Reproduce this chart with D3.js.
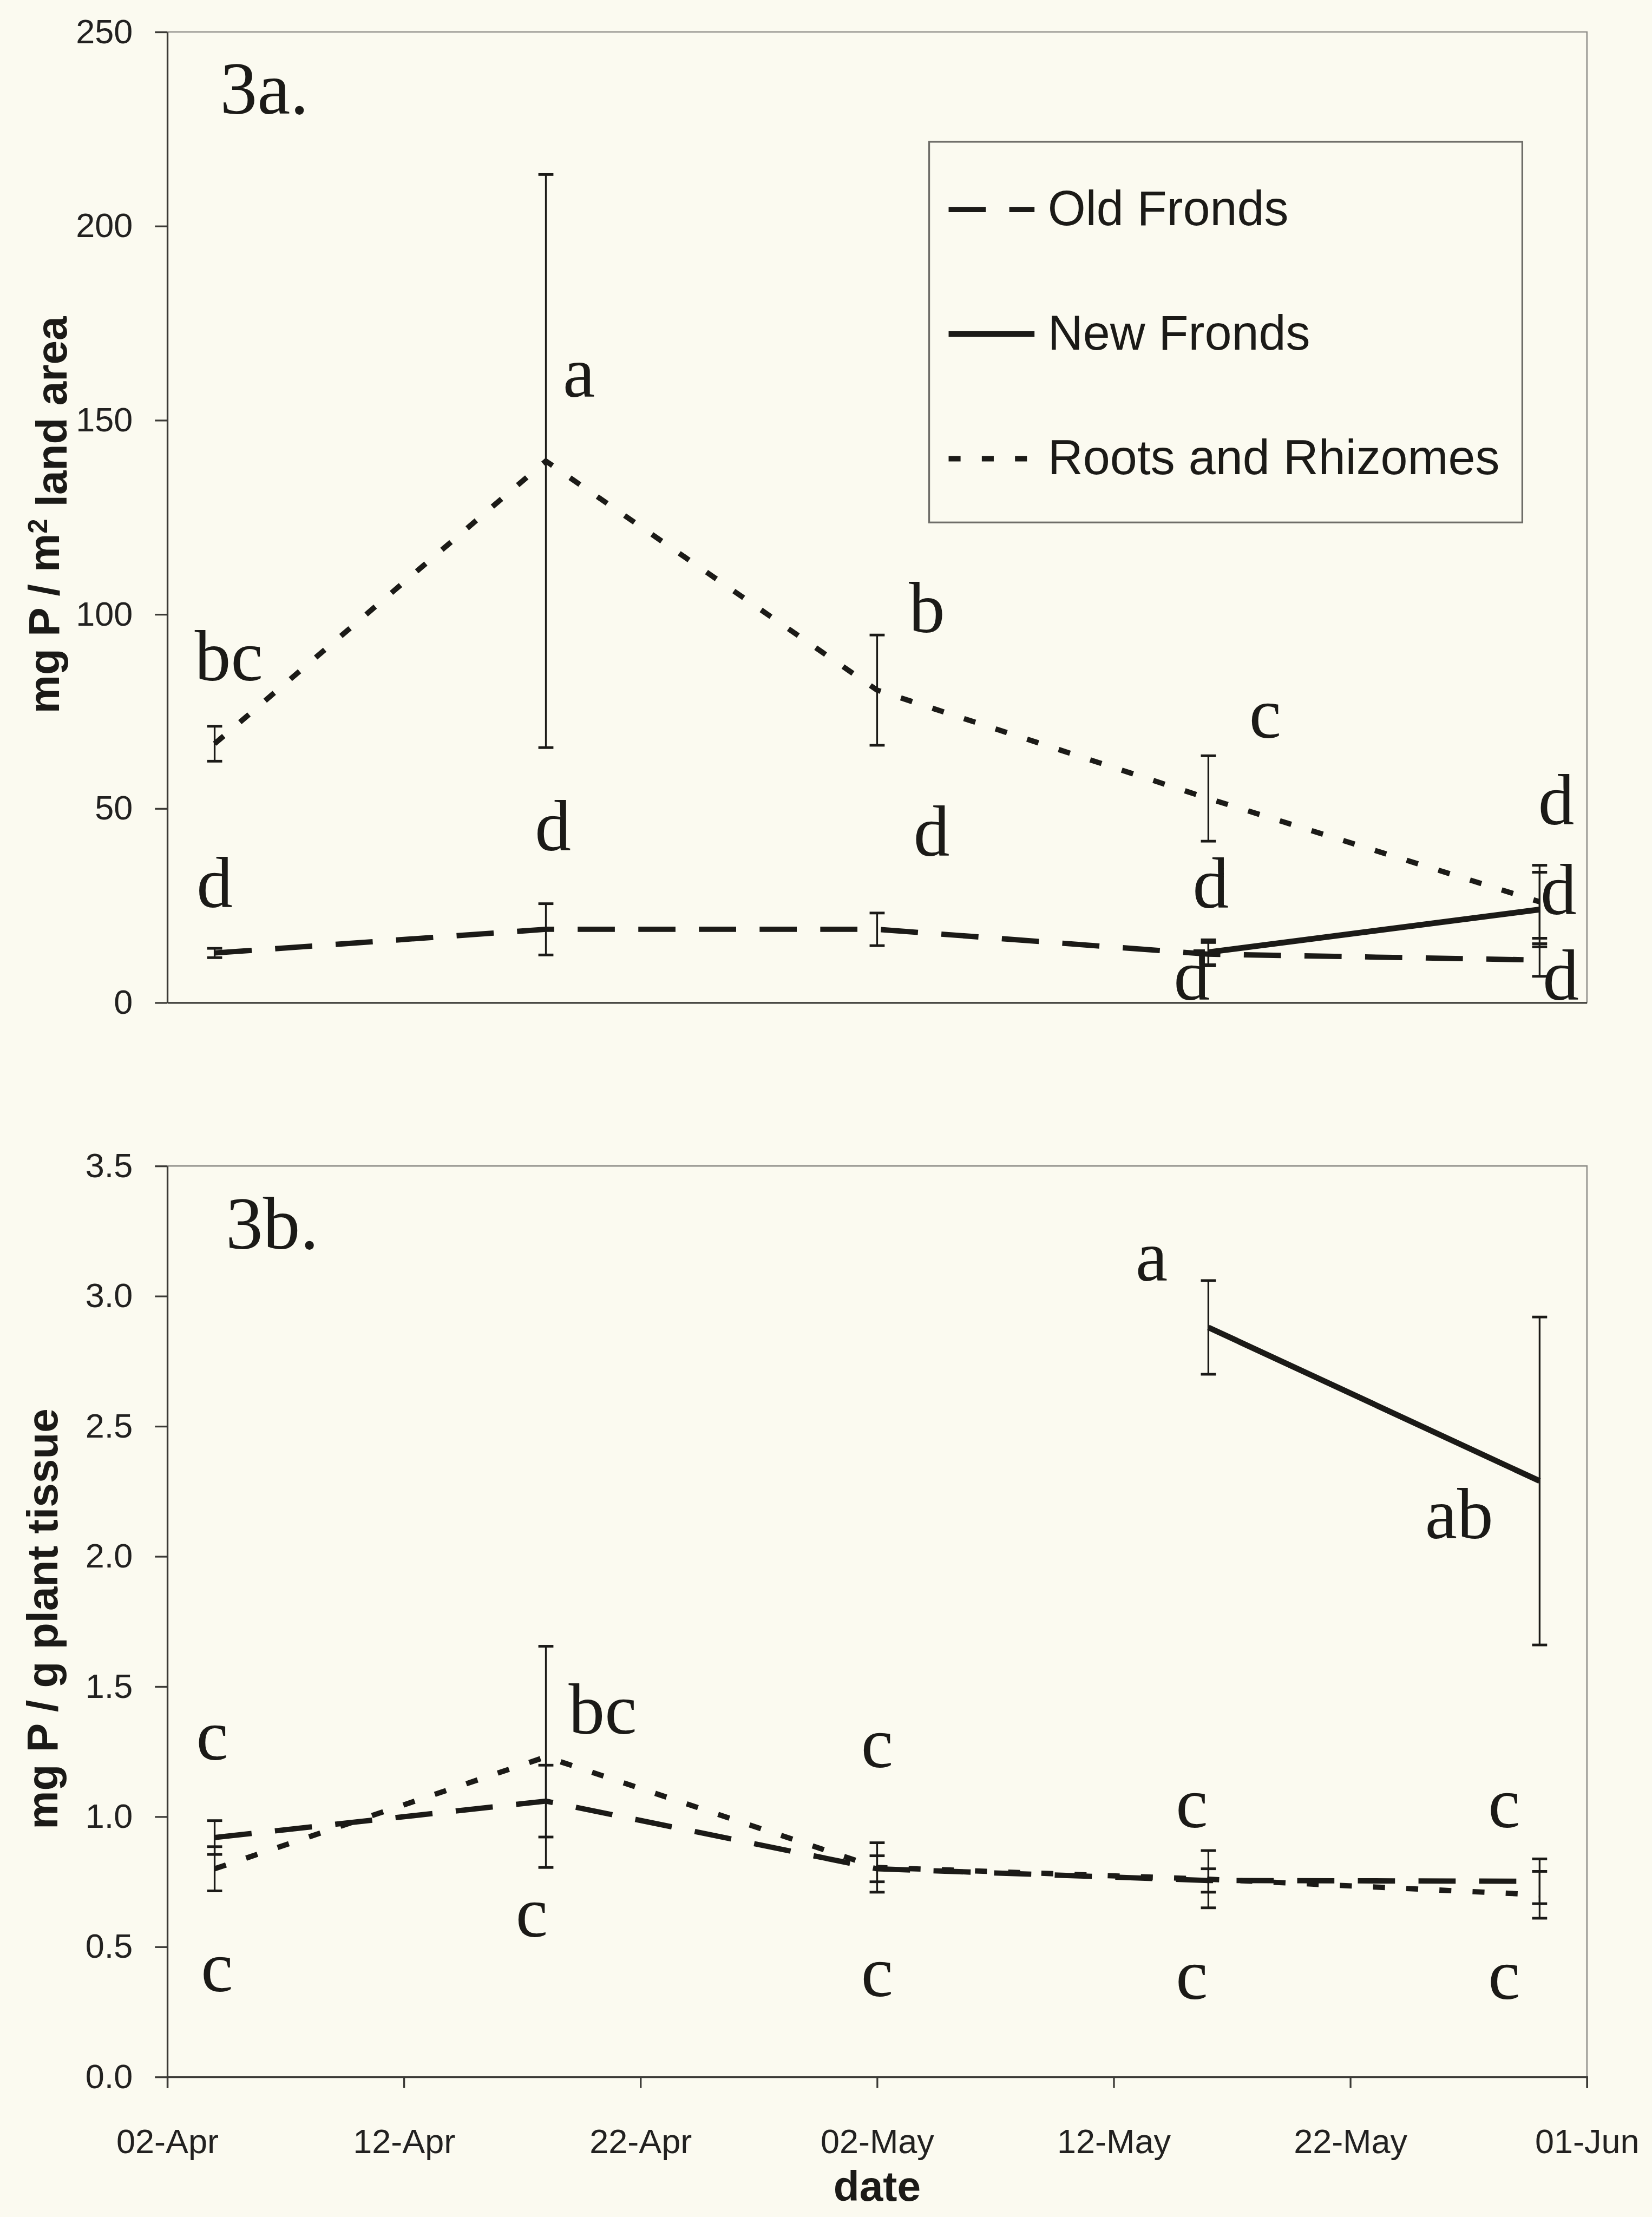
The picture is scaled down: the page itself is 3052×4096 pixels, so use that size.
<!DOCTYPE html>
<html>
<head>
<meta charset="utf-8">
<script src="https://cdn.jsdelivr.net/npm/d3@7"></script>
<style>
  body { margin: 0; background: #fbfaf0; }
  svg { display: block; }
</style>
</head>
<body>
<script>
// sampling dates (same for both panels)
var dates = ["04-Apr", "18-Apr", "02-May", "16-May", "30-May"];
var tickLabels = ["02-Apr", "12-Apr", "22-Apr", "02-May", "12-May", "22-May", "01-Jun"];

// 3a: mg P / m2 land area
var oldA = [12.8, 18.9, 18.9, 12.5, 11.0];
var oldAErr = [1.2, 6.6, 4.2, 3.0, 4.2];
var newA = [null, null, null, 13.0, 24.0];
var newAErr = [null, null, null, 3.2, 9.6];
var rootsA = [66.7, 139.5, 80.5, 52.6, 26.0];
var rootsAErr = [4.5, 73.8, 14.2, 11.0, 9.4];
var yTicksA = [0, 50, 100, 150, 200, 250];

// 3b: mg P / g plant tissue
var oldB = [0.92, 1.06, 0.80, 0.755, 0.752];
var oldBErr = [0.065, 0.138, 0.05, 0.045, 0.086];
var newB = [null, null, null, 2.88, 2.29];
var newBErr = [null, null, null, 0.18, 0.63];
var rootsB = [0.80, 1.23, 0.805, 0.76, 0.70];
var rootsBErr = [0.085, 0.425, 0.095, 0.11, 0.09];
var yTicksB = [0, 0.5, 1.0, 1.5, 2.0, 2.5, 3.0, 3.5];

// significance letters, anchored in data space (days after 02-Apr, value)
var lettersA = [
  {day: 2.6, v: 83, t: "bc"}, {day: 2.0, v: 24.6, t: "d"},
  {day: 17.4, v: 156, t: "a"}, {day: 16.3, v: 39.2, t: "d"},
  {day: 32.1, v: 95.4, t: "b"}, {day: 32.3, v: 37.9, t: "d"},
  {day: 46.4, v: 68.3, t: "c"}, {day: 44.1, v: 24.4, t: "d"},
  {day: 43.3, v: 0.8, t: "d"}, {day: 58.7, v: 46.0, t: "d"},
  {day: 58.8, v: 22.8, t: "d"}, {day: 58.9, v: 0.8, t: "d"}
];
var lettersB = [
  {day: 1.9, v: 1.22, t: "c"}, {day: 2.1, v: 0.33, t: "c"},
  {day: 15.4, v: 0.54, t: "c"}, {day: 18.4, v: 1.32, t: "bc"},
  {day: 30.0, v: 1.19, t: "c"}, {day: 30.0, v: 0.31, t: "c"},
  {day: 43.3, v: 0.96, t: "c"}, {day: 43.3, v: 0.30, t: "c"},
  {day: 56.5, v: 0.96, t: "c"}, {day: 56.5, v: 0.30, t: "c"},
  {day: 41.6, v: 3.06, t: "a"}, {day: 54.6, v: 2.07, t: "ab"}
];

var seriesNames = ["Old Fronds", "New Fronds", "Roots and Rhizomes"];

// drawing is done in the reference's own pixel space, then scaled down by the viewBox
var W = 3732, H = 5008;
var ink = "#1b1a17";
var sans = "'Liberation Sans', Arial, sans-serif";
var serif = "'Liberation Serif', 'Times New Roman', serif";
var dashes = {"Old Fronds": "84,53", "New Fronds": null, "Roots and Rhizomes": "27,48"};

var parse = d3.timeParse("%d-%b-%Y");
var toDate = function(s) { return parse(s + "-2003"); };
var start = toDate("02-Apr");
var dayDate = function(d) { return new Date(start.getTime() + d * 864e5); };

var svg = d3.select("body").append("svg")
  .attr("width", 3052)
  .attr("height", 4096)
  .attr("viewBox", `0 0 ${W} ${H}`);

svg.append("rect").attr("width", W).attr("height", H).attr("fill", "#fbfaf0");

var x = d3.scaleTime()
  .domain([toDate("02-Apr"), toDate("01-Jun")])
  .range([378, 3585]);

function drawPanel(p) {
  var y = d3.scaleLinear().domain(p.domain).range(p.range);
  var g = svg.append("g");

  // top and right frame of the plot area
  g.append("path")
    .attr("d", `M${x.range()[0]},${y.range()[1]}H${x.range()[1]}V${y.range()[0]}`)
    .attr("fill", "none").attr("stroke", "#8c8b86").attr("stroke-width", 3);

  var left = g.append("g")
    .attr("transform", `translate(${x.range()[0]},0)`)
    .call(d3.axisLeft(y).tickValues(p.yTicks).tickFormat(p.fmt)
      .tickSize(28).tickSizeOuter(0).tickPadding(50));
  left.selectAll("text").attr("font-family", sans).attr("font-size", 77).attr("fill", "#222120");

  var bottomAxis = d3.axisBottom(x).tickSizeOuter(0);
  if (p.xLabels) {
    bottomAxis.tickValues(tickLabels.map(toDate)).tickFormat(d3.timeFormat("%d-%b"))
      .tickSize(25).tickPadding(92);
  } else {
    bottomAxis.tickValues([]);
  }
  var bottom = g.append("g")
    .attr("transform", `translate(0,${y.range()[0]})`)
    .call(bottomAxis);
  bottom.selectAll("text").attr("font-family", sans).attr("font-size", 77).attr("fill", "#222120");

  g.selectAll(".domain, .tick line").attr("stroke", "#3b3a36").attr("stroke-width", 4);

  // y title
  var title = g.append("text")
    .attr("transform", `translate(${p.titleX},${p.titleY}) rotate(-90)`)
    .attr("text-anchor", "middle")
    .attr("font-family", sans).attr("font-weight", "bold").attr("font-size", 98)
    .attr("fill", ink);
  p.title.forEach(function(part) {
    var ts = title.append("tspan").text(part.s);
    if (part.sup) ts.attr("dy", "-0.45em").attr("font-size", 60);
    if (part.after) ts.attr("dy", "0.45em");
  });

  // panel label
  g.append("text")
    .attr("x", p.labelX).attr("y", p.labelY)
    .attr("font-family", serif).attr("font-size", 168).attr("fill", ink)
    .text(p.label);

  var series = seriesNames.map(function(name, i) {
    return {
      name: name,
      pts: dates.map(function(d, j) {
        return {date: toDate(d), v: p.vals[i][j], e: p.errs[i][j]};
      })
    };
  });

  // error bars
  series.forEach(function(s) {
    var bars = g.append("g").selectAll("g")
      .data(s.pts.filter(function(d) { return d.v != null; }))
      .enter().append("g")
      .attr("stroke", ink);
    bars.append("line")
      .attr("x1", d => x(d.date)).attr("x2", d => x(d.date))
      .attr("y1", d => y(d.v - d.e)).attr("y2", d => y(d.v + d.e))
      .attr("stroke-width", 4);
    [-1, 1].forEach(function(sgn) {
      bars.append("line")
        .attr("x1", d => x(d.date) - 17).attr("x2", d => x(d.date) + 17)
        .attr("y1", d => y(d.v + sgn * d.e)).attr("y2", d => y(d.v + sgn * d.e))
        .attr("stroke-width", 6);
    });
  });

  // series lines
  var line = d3.line()
    .defined(d => d.v != null)
    .x(d => x(d.date))
    .y(d => y(d.v));
  series.forEach(function(s) {
    g.append("path")
      .datum(s.pts)
      .attr("d", line)
      .attr("fill", "none")
      .attr("stroke", ink)
      .attr("stroke-width", s.name == "New Fronds" ? 13 : 12)
      .attr("stroke-dasharray", dashes[s.name]);
  });

  // letters
  g.append("g").selectAll("text")
    .data(p.letters)
    .enter().append("text")
    .attr("x", d => x(dayDate(d.day)))
    .attr("y", d => y(d.v))
    .attr("text-anchor", "middle")
    .attr("font-family", serif).attr("font-size", 163).attr("fill", ink)
    .text(d => d.t);

  return g;
}

var gA = drawPanel({
  domain: [0, 250], range: [2265, 72], yTicks: yTicksA, fmt: d3.format("d"),
  vals: [oldA, newA, rootsA], errs: [oldAErr, newAErr, rootsAErr],
  letters: lettersA, label: "3a.", labelX: 497, labelY: 256,
  titleX: 133, titleY: 1163,
  title: [{s: "mg P / m"}, {s: "2", sup: true}, {s: " land area", after: true}],
  xLabels: false
});

drawPanel({
  domain: [0, 3.5], range: [4692, 2634], yTicks: yTicksB, fmt: d3.format(".1f"),
  vals: [oldB, newB, rootsB], errs: [oldBErr, newBErr, rootsBErr],
  letters: lettersB, label: "3b.", labelX: 510, labelY: 2821,
  titleX: 130, titleY: 3657,
  title: [{s: "mg P / g plant tissue"}],
  xLabels: true
});

// x title
svg.append("text")
  .attr("x", (x.range()[0] + x.range()[1]) / 2).attr("y", 4972)
  .attr("text-anchor", "middle")
  .attr("font-family", sans).attr("font-weight", "bold").attr("font-size", 96)
  .attr("fill", ink)
  .text("date");

// legend (panel 3a)
var legend = gA.append("g");
legend.append("rect")
  .attr("x", 2099).attr("y", 320).attr("width", 1340).attr("height", 860)
  .attr("fill", "#fbfaf0").attr("stroke", "#6e6d68").attr("stroke-width", 4);
var rows = legend.selectAll("g.row")
  .data(seriesNames)
  .enter().append("g")
  .attr("class", "row")
  .attr("transform", (d, i) => `translate(0,${508 + i * 281.5})`);
rows.append("line")
  .attr("x1", 2143).attr("x2", 2337).attr("y1", -35).attr("y2", -35)
  .attr("stroke", ink)
  .attr("stroke-width", d => d == "New Fronds" ? 13 : 12)
  .attr("stroke-dasharray", d => dashes[d]);
rows.append("text")
  .attr("x", 2367)
  .attr("font-family", sans).attr("font-size", 110).attr("fill", ink)
  .text(d => d);
</script>
</body>
</html>
